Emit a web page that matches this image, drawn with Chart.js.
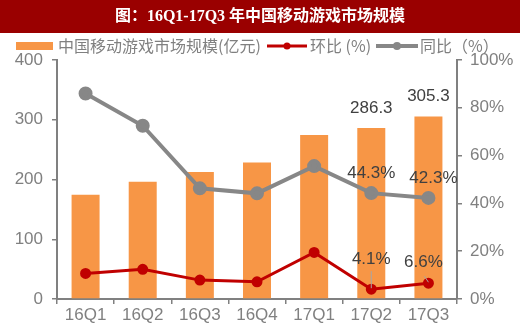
<!DOCTYPE html>
<html>
<head>
<meta charset="utf-8">
<script src="https://cdn.jsdelivr.net/npm/chart.js@4"></script>
<style>
  html, body { margin: 0; padding: 0; background: #fff; }
  #wrap { width: 520px; height: 331px; position: relative; }
</style>
</head>
<body>
<div id="wrap"><canvas id="chart" width="520" height="331"></canvas></div>
<script>
// 16Q1-17Q3 China mobile game market
const titleText = '图：16Q1-17Q3 年中国移动游戏市场规模';
const categories = ['16Q1', '16Q2', '16Q3', '16Q4', '17Q1', '17Q2', '17Q3'];
const marketSize = [174.5, 196.2, 212.6, 228.3, 274.6, 286.3, 305.3];   // 亿元
const qoqRate = [10.7, 12.4, 7.9, 7.2, 19.5, 4.1, 6.6];                 // 环比 %
const yoyRate = [86.0, 72.5, 46.3, 44.2, 55.6, 44.3, 42.3];             // 同比 %
const labelledPoints = [5, 6];
const seriesNames = ['中国移动游戏市场规模(亿元)', '环比 (%)', '同比（%）'];

const GRAY = '#808080';
const ORANGE = '#f79646';
const RED = '#c00000';
const LINE_GRAY = '#878787';
const FONT = '"Liberation Sans", Arial, "Noto Sans CJK SC", sans-serif';

// title bar + legend
const decorPlugin = {
    id: 'decor',
    beforeDraw(chart) {
        const ctx = chart.ctx;
        ctx.save();
        ctx.fillStyle = '#9a0000';
        ctx.fillRect(0, 0, 520, 33);
        ctx.fillStyle = '#ffffff';
        ctx.font = 'bold 16px "Liberation Serif", "Noto Sans CJK SC", serif';
        ctx.textAlign = 'center';
        ctx.textBaseline = 'middle';
        ctx.fillText(titleText, 260, 17);

        // legend
        const y = 46;
        ctx.font = '16px "Noto Sans CJK SC", ' + FONT;
        ctx.textAlign = 'left';
        ctx.fillStyle = GRAY;
        ctx.fillStyle = ORANGE;
        ctx.fillRect(16, 42, 37, 8);
        ctx.fillStyle = GRAY;
        ctx.fillText(seriesNames[0], 58, y);

        const lineSample = (x1, x2, color, w, r) => {
            ctx.strokeStyle = color;
            ctx.lineWidth = w;
            ctx.beginPath();
            ctx.moveTo(x1, y);
            ctx.lineTo(x2, y);
            ctx.stroke();
            ctx.fillStyle = color;
            ctx.beginPath();
            ctx.arc((x1 + x2) / 2, y, r, 0, Math.PI * 2);
            ctx.fill();
        };
        lineSample(267, 307, RED, 3, 3.5);
        ctx.fillStyle = GRAY;
        ctx.fillText(seriesNames[1], 310, y);
        lineSample(376, 418, LINE_GRAY, 4, 4);
        ctx.fillStyle = GRAY;
        ctx.fillText(seriesNames[2], 420, y);
        ctx.restore();
    },
    afterDatasetsDraw(chart) {
        const ctx = chart.ctx;
        ctx.save();
        ctx.font = '17px ' + FONT;
        ctx.fillStyle = '#404040';
        ctx.textAlign = 'center';
        ctx.textBaseline = 'middle';
        const bars = chart.getDatasetMeta(0).data;
        const reds = chart.getDatasetMeta(1).data;
        const grays = chart.getDatasetMeta(2).data;
        labelledPoints.forEach(i => {
            const b = bars[i];
            ctx.fillText(marketSize[i].toFixed(1), b.x, b.y - 20);
            const g = grays[i];
            ctx.fillText(yoyRate[i].toFixed(1) + '%', g.x + (i === 6 ? 5 : 0), g.y - 20);
            const r = reds[i];
            const dx = i === 6 ? -5 : 0;
            const ly = r.y - (i === 6 ? 21 : 30);
            ctx.fillText(qoqRate[i].toFixed(1) + '%', r.x + dx, ly);
            // leader line
            ctx.strokeStyle = '#a6a6a6';
            ctx.lineWidth = 1;
            ctx.beginPath();
            if (i === 6) {
                ctx.moveTo(r.x - 4, ly + 14);
                ctx.lineTo(r.x, r.y - 1);
            } else {
                ctx.moveTo(r.x, ly + 12);
                ctx.lineTo(r.x, r.y - 1);
            }
            ctx.stroke();
        });
        ctx.restore();
    }
};

new Chart(document.getElementById('chart'), {
    type: 'bar',
    data: {
        labels: categories,
        datasets: [
            {
                type: 'bar',
                label: seriesNames[0],
                data: marketSize,
                backgroundColor: ORANGE,
                categoryPercentage: 1,
                barPercentage: 0.49,
                yAxisID: 'y',
                order: 3
            },
            {
                type: 'line',
                label: seriesNames[1],
                data: qoqRate,
                borderColor: RED,
                backgroundColor: RED,
                borderWidth: 3,
                pointRadius: 4,
                pointHoverRadius: 4,
                tension: 0,
                yAxisID: 'y1',
                order: 1
            },
            {
                type: 'line',
                label: seriesNames[2],
                data: yoyRate,
                borderColor: LINE_GRAY,
                backgroundColor: LINE_GRAY,
                borderWidth: 4,
                pointRadius: 5,
                pointHoverRadius: 5,
                tension: 0,
                yAxisID: 'y1',
                order: 2
            }
        ]
    },
    options: {
        responsive: false,
        animation: false,
        layout: { padding: { top: 60, left: 0, right: 0, bottom: 0 } },
        plugins: {
            legend: { display: false },
            title: { display: false },
            tooltip: { enabled: false }
        },
        scales: {
            x: {
                offset: true,
                grid: { offset: true, drawOnChartArea: false, drawTicks: true, tickLength: 5, color: GRAY, lineWidth: 1.5 },
                border: { color: GRAY, width: 2 },
                ticks: { color: GRAY, font: { size: 17, family: FONT }, padding: 1 },
                afterFit: s => { s.height = 32; }
            },
            y: {
                position: 'left',
                min: 0,
                max: 400,
                ticks: { stepSize: 100, color: GRAY, font: { size: 17, family: FONT }, padding: 9 },
                grid: { drawOnChartArea: false, drawTicks: true, tickLength: 5, color: GRAY, lineWidth: 1.5 },
                border: { color: GRAY, width: 2 },
                afterFit: s => { s.width = 57; }
            },
            y1: {
                position: 'right',
                min: 0,
                max: 100,
                ticks: { stepSize: 20, color: GRAY, font: { size: 17, family: FONT }, padding: 8, callback: v => v + '%' },
                grid: { drawOnChartArea: false, drawTicks: true, tickLength: 5, color: GRAY, lineWidth: 1.5 },
                border: { color: GRAY, width: 2 },
                afterFit: s => { s.width = 63; }
            }
        }
    },
    plugins: [decorPlugin]
});
</script>
</body>
</html>
